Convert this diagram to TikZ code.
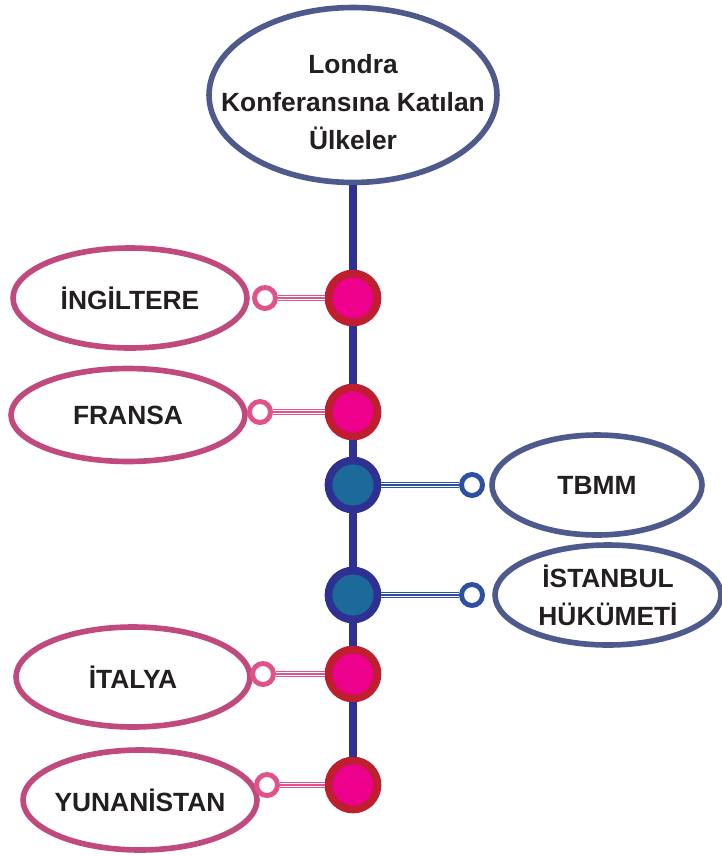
\documentclass[tikz,border=0pt]{standalone}
\usepackage{fontspec}
\setmainfont{Liberation Sans}
\usepackage{xcolor}
\usetikzlibrary{shapes.geometric}

\definecolor{slate}{HTML}{4E5A8C}
\definecolor{spineblue}{HTML}{2E3192}
\definecolor{rose}{HTML}{C04A7E}
\definecolor{crimson}{HTML}{BE1E2D}
\definecolor{dotpink}{HTML}{EC008C}
\definecolor{dotteal}{HTML}{1B6A9A}
\definecolor{ringpink}{HTML}{E0528A}
\definecolor{ringblue}{HTML}{2E50A0}
\definecolor{ink}{HTML}{231F20}

\tikzset{
	bubble/.style={ellipse, draw=#1, line width=3.2pt, fill=white, inner sep=0pt},
	pinkbubble/.style={bubble=rose, minimum width=4.68cm, minimum height=2cm},
	bluebubble/.style={bubble=slate, minimum width=4.52cm, minimum height=2cm},
	word/.style={font=\fontsize{15}{21.5}\selectfont\bfseries, text=ink, align=center},
	pinkdot/.style={circle, draw=crimson, fill=dotpink, line width=4.4pt, minimum size=0.98cm, inner sep=0pt},
	bluedot/.style={circle, draw=spineblue, fill=dotteal, line width=4.4pt, minimum size=0.98cm, inner sep=0pt},
	ring/.style={circle, draw=#1, fill=white, line width=2.8pt, minimum size=0.42cm, inner sep=0pt},
	spine/.style={draw=spineblue, line width=4.2pt},
	link/.style={draw=#1, line width=3.6pt, postaction={draw=white, line width=0.65pt, double=#1, double distance=0.65pt}},
}

\begin{document}
\begin{tikzpicture}[x=0.02cm, y=-0.02cm]
	%page frame
	\useasboundingbox (0,0) rectangle (722,856);
	
	%title bubble
	\node[bubble=slate, minimum width=5.76cm, minimum height=3.5cm,
		label={[word, yshift=-0.14cm]center:{Londra\\Konferansına Katılan\\Ülkeler}}] (title) at (353,95) {};
	
	%countries on the left
	\node[pinkbubble, label={[word]center:İNGİLTERE}] (ingiltere) at (130,298) {};
	\node[pinkbubble, minimum height=1.86cm, label={[word]center:FRANSA}] (fransa) at (128,415) {};
	\node[pinkbubble, label={[word]center:İTALYA}] (italya) at (133,677) {};
	\node[pinkbubble, label={[word]center:YUNANİSTAN}] (yunanistan) at (140,800) {};
	
	%turkish sides on the right
	\node[bluebubble, minimum width=4.2cm, label={[word]center:TBMM}] (tbmm) at (597,485) {};
	\node[bluebubble, label={[word]center:{İSTANBUL\\HÜKÜMETİ}}] (istanbul) at (608,595) {};
	
	%dots on the spine
	\node[pinkdot] (d1) at (353,298) {};
	\node[pinkdot] (d2) at (353,412) {};
	\node[bluedot] (d3) at (353,485) {};
	\node[bluedot] (d4) at (353,595) {};
	\node[pinkdot] (d5) at (353,674) {};
	\node[pinkdot] (d6) at (353,785) {};
	
	%small rings
	\node[ring=ringpink] (r1) at (265,298) {};
	\node[ring=ringpink] (r2) at (260,412) {};
	\node[ring=ringblue] (r3) at (472,485) {};
	\node[ring=ringblue] (r4) at (472,595) {};
	\node[ring=ringpink] (r5) at (263,674) {};
	\node[ring=ringpink] (r6) at (267,785) {};
	
	%spine
	\foreach \a/\b in {title/d1, d1/d2, d2/d3, d3/d4, d4/d5, d5/d6}
		\draw[spine] (\a) -- (\b);
	
	%links from rings to dots
	\foreach \r/\d/\c in {r1/d1/ringpink, r2/d2/ringpink, r3/d3/ringblue, r4/d4/ringblue, r5/d5/ringpink, r6/d6/ringpink}
		\draw[link=\c] (\r) -- (\d);
\end{tikzpicture}
\end{document}
